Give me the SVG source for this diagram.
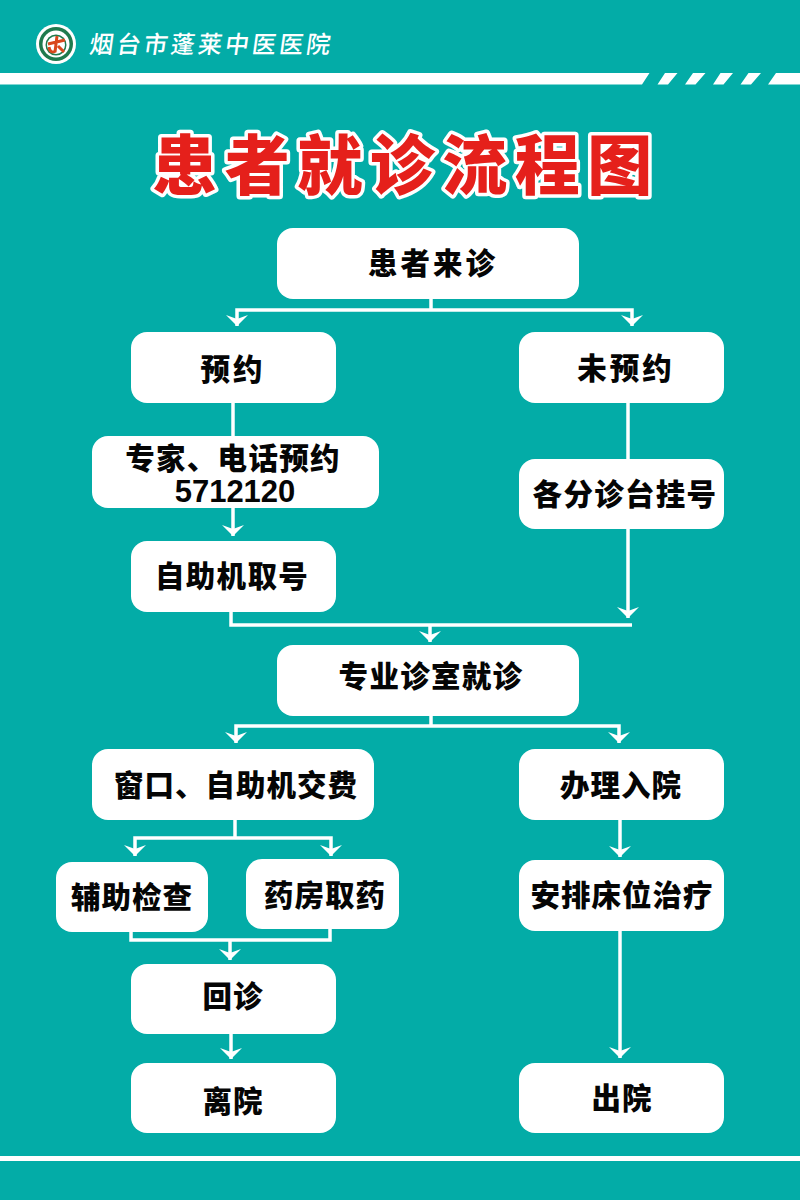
<svg xmlns="http://www.w3.org/2000/svg" width="800" height="1200" viewBox="0 0 800 1200">
<style>
.n{fill:#fff}
.t{font-family:"Noto Sans CJK SC","Liberation Sans",sans-serif;font-weight:900;font-size:29.500px;fill:#050505;text-anchor:middle}
.c{fill:none;stroke:#fff;stroke-width:3.500}
.h{fill:#fff}
</style>
<defs>
<marker id="a" markerUnits="userSpaceOnUse" markerWidth="24" markerHeight="18" refX="11" refY="16" orient="0" overflow="visible">
<path d="M0 5L11 9L22 5L11 16Z" fill="#fff"/>
</marker>
</defs>
<rect width="800" height="1200" fill="#03aca7"/>
<g id="header">
<path class="h" d="M0 73H649.500L642 84.500H0ZM665 73H677.500L668 84.500H657.500ZM693 73H705.500L695.500 84.500H685ZM720.500 73H733L723.500 84.500H713ZM748.500 73H761L751 84.500H740.500ZM776 73H800V84.500H768Z"/>
<circle cx="56" cy="44" r="20" fill="#fff"/>
<circle cx="56" cy="44" r="17" fill="#1f7a4d"/>
<circle cx="56" cy="44" r="13.500" fill="#fff"/>
<circle cx="56" cy="45" r="10.500" fill="#1f7a4d"/>
<circle cx="56" cy="45" r="9" fill="#fff"/>
<path d="M48 44L65 40M57 36L55 52M49 47Q50 54 56 51M58 46L64 52" fill="none" stroke="#d9481c" stroke-width="3"/>
<text x="88" y="53" style="font-family:'Noto Sans CJK SC','Noto Sans CJK JP',sans-serif;font-size:24px;font-weight:500;fill:#fff;letter-spacing:3.100px" transform="translate(8 0) skewX(-8)">烟台市蓬莱中医医院</text>
</g>
<text id="title" x="406" y="189" text-anchor="middle" style="font-family:'Noto Sans CJK SC',sans-serif;font-size:65px;font-weight:900;letter-spacing:7.500px;fill:#e5201b;stroke:#fff;stroke-width:7px;paint-order:stroke;stroke-linejoin:round">患者就诊流程图</text>
<g id="connectors">
<path class="c" d="M431 299V310"/>
<path class="c" d="M237 326V310H632V326" marker-start="url(#a)" marker-end="url(#a)"/>
<path class="c" d="M233 403V436"/>
<path class="c" d="M233 508V536" marker-end="url(#a)"/>
<path class="c" d="M628 403V459"/>
<path class="c" d="M628 529V618" marker-end="url(#a)"/>
<path class="c" d="M231 612V625H632"/>
<path class="c" d="M430 625V642" marker-end="url(#a)"/>
<path class="c" d="M431 716V726"/>
<path class="c" d="M236 743V726H619V743" marker-start="url(#a)" marker-end="url(#a)"/>
<path class="c" d="M235 820V838"/>
<path class="c" d="M135 856V838H331V856" marker-start="url(#a)" marker-end="url(#a)"/>
<path class="c" d="M131 932V940H330V929"/>
<path class="c" d="M230 940V960" marker-end="url(#a)"/>
<path class="c" d="M231 1034V1059" marker-end="url(#a)"/>
<path class="c" d="M620 820V857" marker-end="url(#a)"/>
<path class="c" d="M620 931V1058" marker-end="url(#a)"/>
</g>
<g id="n1"><rect class="n" x="277" y="228" width="302" height="71" rx="16"/><text class="t" x="433" y="274" letter-spacing="3">患者来诊</text></g>
<g id="n2"><rect class="n" x="131" y="332" width="205" height="71" rx="16"/><text class="t" x="233" y="380" letter-spacing="3">预约</text></g>
<g id="n3"><rect class="n" x="519" y="332" width="205" height="71" rx="16"/><text class="t" x="626" y="379" letter-spacing="3">未预约</text></g>
<g id="n4"><rect class="n" x="92" y="436" width="287" height="72" rx="16"/><text class="t" x="233" y="469" letter-spacing="1.300">专家、电话预约</text><text x="235" y="502" text-anchor="middle" style="font-family:'Liberation Sans',sans-serif;font-weight:700;font-size:31px;fill:#050505">5712120</text></g>
<g id="n5"><rect class="n" x="519" y="459" width="205" height="70" rx="16"/><text class="t" x="625" y="505" letter-spacing="1.300">各分诊台挂号</text></g>
<g id="n6"><rect class="n" x="131" y="541" width="205" height="71" rx="16"/><text class="t" x="232" y="587" letter-spacing="1.300">自助机取号</text></g>
<g id="n7"><rect class="n" x="277" y="645" width="302" height="71" rx="16"/><text class="t" x="431" y="687" letter-spacing="1.300">专业诊室就诊</text></g>
<g id="n8"><rect class="n" x="92" y="749" width="282" height="71" rx="16"/><text class="t" x="236" y="796" letter-spacing="1">窗口、自助机交费</text></g>
<g id="n9"><rect class="n" x="519" y="749" width="205" height="71" rx="16"/><text class="t" x="621" y="796" letter-spacing="1">办理入院</text></g>
<g id="n10"><rect class="n" x="56" y="862" width="152" height="70" rx="16"/><text class="t" x="132" y="908" letter-spacing="1">辅助检查</text></g>
<g id="n11"><rect class="n" x="246" y="859" width="153" height="70" rx="16"/><text class="t" x="325" y="906" letter-spacing="1">药房取药</text></g>
<g id="n12"><rect class="n" x="519" y="860" width="205" height="71" rx="16"/><text class="t" x="622" y="906" letter-spacing="1">安排床位治疗</text></g>
<g id="n13"><rect class="n" x="131" y="964" width="205" height="70" rx="16"/><text class="t" x="233" y="1007" letter-spacing="1">回诊</text></g>
<g id="n14"><rect class="n" x="131" y="1063" width="205" height="70" rx="16"/><text class="t" x="233" y="1112" letter-spacing="1">离院</text></g>
<g id="n15"><rect class="n" x="519" y="1063" width="205" height="70" rx="16"/><text class="t" x="622" y="1109" letter-spacing="1">出院</text></g>
<rect id="footer" y="1156" width="800" height="5" fill="#fff"/>
</svg>
